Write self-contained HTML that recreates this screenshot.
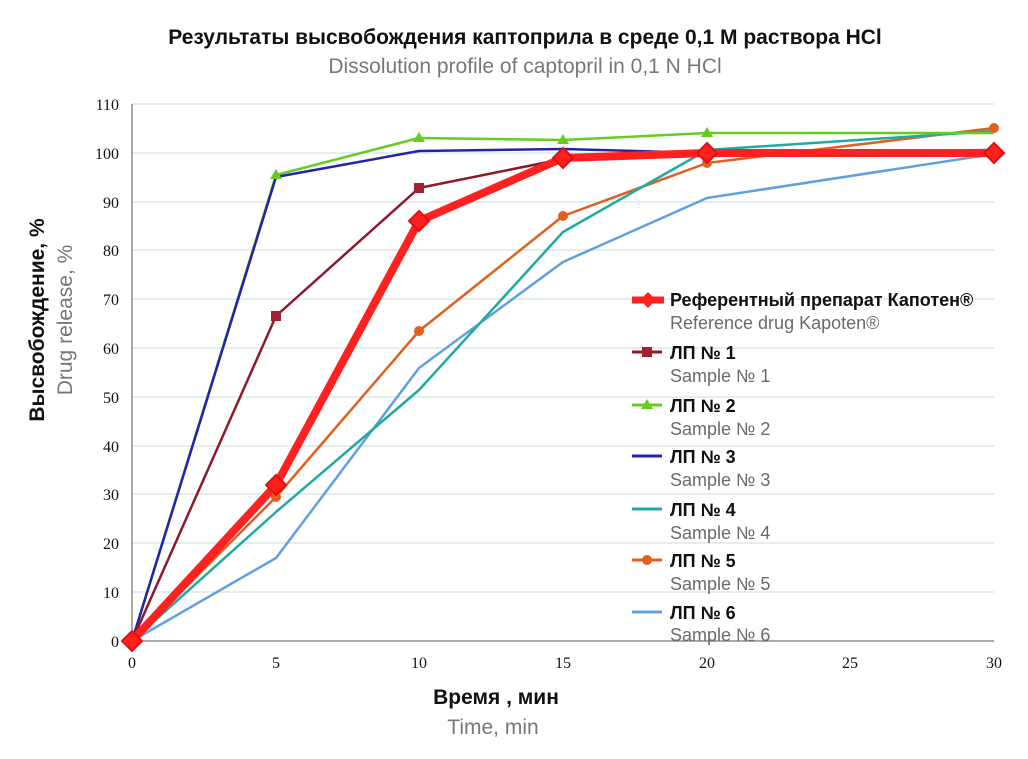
<!DOCTYPE html><html><head><meta charset="utf-8"><style>body{margin:0;background:#fff}svg{display:block}</style></head><body>
<svg width="1028" height="759" xmlns="http://www.w3.org/2000/svg" font-family="'Liberation Sans',sans-serif">
<text x="525" y="44" text-anchor="middle" font-size="21" font-weight="bold" fill="#111">Результаты высвобождения каптоприла в среде 0,1 М раствора HCl</text>
<text x="525" y="73" text-anchor="middle" font-size="21" fill="#777">Dissolution profile of captopril in 0,1 N HCl</text>
<g stroke="#d4e4e4" stroke-width="1.2">
<line x1="132" x2="994" y1="104" y2="104"/><line x1="132" x2="994" y1="153" y2="153"/><line x1="132" x2="994" y1="202" y2="202"/><line x1="132" x2="994" y1="250" y2="250"/><line x1="132" x2="994" y1="299" y2="299"/><line x1="132" x2="994" y1="348" y2="348"/><line x1="132" x2="994" y1="397" y2="397"/><line x1="132" x2="994" y1="446" y2="446"/><line x1="132" x2="994" y1="494" y2="494"/><line x1="132" x2="994" y1="543" y2="543"/><line x1="132" x2="994" y1="592" y2="592"/>
</g>
<line x1="132" x2="132" y1="104" y2="641" stroke="#555"/>
<line x1="132" x2="994" y1="641" y2="641" stroke="#555"/>
<g font-family="'Liberation Serif',serif" font-size="16" text-anchor="end" fill="#111">
<text x="119" y="110">110</text><text x="119" y="159">100</text><text x="119" y="208">90</text><text x="119" y="256">80</text><text x="119" y="305">70</text><text x="119" y="354">60</text><text x="119" y="403">50</text><text x="119" y="452">40</text><text x="119" y="500">30</text><text x="119" y="549">20</text><text x="119" y="598">10</text><text x="119" y="647">0</text>
</g>
<g font-family="'Liberation Serif',serif" font-size="16" text-anchor="middle" fill="#111">
<text x="132" y="668">0</text><text x="276" y="668">5</text><text x="419" y="668">10</text><text x="563" y="668">15</text><text x="707" y="668">20</text><text x="850" y="668">25</text><text x="994" y="668">30</text>
</g>
<text x="496" y="704" text-anchor="middle" font-size="21" font-weight="bold" fill="#111">Время , мин</text>
<text x="493" y="734" text-anchor="middle" font-size="21" fill="#777">Time, min</text>
<text transform="translate(44,320) rotate(-90)" text-anchor="middle" font-size="21" font-weight="bold" fill="#111">Высвобождение, %</text>
<text transform="translate(72,320) rotate(-90)" text-anchor="middle" font-size="21" fill="#777">Drug release, %</text>
<g fill="none" stroke-linejoin="round">
<polyline stroke="#5fa0e0" stroke-width="2.5" points="132,641 276,558 419,368 563,262 707,198 994,154"/>
<polyline stroke="#e06020" stroke-width="2.5" points="132,641 276,497 419,331 563,216 707,163 994,128"/>
<polyline stroke="#22aaa0" stroke-width="2.5" points="132,641 276,512 419,390 563,232 707,150 994,131"/>
<polyline stroke="#66cc22" stroke-width="2.5" points="132,641 276,175 419,138 563,140 707,133 994,133"/>
<polyline stroke="#2222aa" stroke-width="2.5" points="132,641 276,177 419,151 563,149 707,153 994,150"/>
<polyline stroke="#8b1a2a" stroke-width="2.5" points="132,641 276,316 419,188 563,159 707,154 994,153"/>
<polyline stroke="#ff2020" stroke-width="8" points="132,641 276,485 419,221 563,158 707,153 994,153"/>
</g>
<g fill="#a02030"><rect x="271" y="311" width="10" height="10"/><rect x="414" y="183" width="10" height="10"/><rect x="558" y="154" width="10" height="10"/></g>
<g fill="#66cc22"><polygon points="419,132 425,142 413,142"/><polygon points="563,134 569,144 557,144"/><polygon points="707,127 713,137 701,137"/><polygon points="276,169 282,179 270,179"/></g>
<g fill="#e06020"><circle cx="276" cy="497" r="5"/><circle cx="419" cy="331" r="5"/><circle cx="563" cy="216" r="5"/><circle cx="707" cy="163" r="5"/><circle cx="994" cy="128" r="5"/></g>
<g fill="#ff2020" stroke="#e01010" stroke-width="2"><polygon points="132,631 142,641 132,651 122,641"/><polygon points="276,475 286,485 276,495 266,485"/><polygon points="419,211 429,221 419,231 409,221"/><polygon points="563,148 573,158 563,168 553,158"/><polygon points="707,143 717,153 707,163 697,153"/><polygon points="994,143 1004,153 994,163 984,153"/></g>
<g font-size="18">
<line x1="632" x2="664" y1="300" y2="300" stroke="#ff2020" stroke-width="7"/><polygon points="648,292 656,300 648,308 640,300" fill="#ff2020"/>
<text x="670" y="306" font-weight="bold" fill="#111">Референтный препарат Капотен®</text>
<text x="670" y="329" fill="#6a6a6a">Reference drug Kapoten®</text>
<line x1="632" x2="662" y1="352" y2="352" stroke="#8b1a2a" stroke-width="3"/><rect x="642" y="347" width="10" height="10" fill="#a02030"/>
<text x="670" y="359" font-weight="bold" fill="#111">ЛП № 1</text><text x="670" y="382" fill="#6a6a6a">Sample № 1</text>
<line x1="632" x2="662" y1="405" y2="405" stroke="#66cc22" stroke-width="3"/><polygon points="647,399 653,409 641,409" fill="#66cc22"/>
<text x="670" y="412" font-weight="bold" fill="#111">ЛП № 2</text><text x="670" y="435" fill="#6a6a6a">Sample № 2</text>
<line x1="632" x2="662" y1="456" y2="456" stroke="#2222aa" stroke-width="3"/>
<text x="670" y="463" font-weight="bold" fill="#111">ЛП № 3</text><text x="670" y="486" fill="#6a6a6a">Sample № 3</text>
<line x1="632" x2="662" y1="509" y2="509" stroke="#22aaa0" stroke-width="3"/>
<text x="670" y="516" font-weight="bold" fill="#111">ЛП № 4</text><text x="670" y="539" fill="#6a6a6a">Sample № 4</text>
<line x1="632" x2="662" y1="560" y2="560" stroke="#e06020" stroke-width="3"/><circle cx="647" cy="560" r="5" fill="#e06020"/>
<text x="670" y="567" font-weight="bold" fill="#111">ЛП № 5</text><text x="670" y="590" fill="#6a6a6a">Sample № 5</text>
<line x1="632" x2="662" y1="612" y2="612" stroke="#5fa0e0" stroke-width="3"/>
<text x="670" y="619" font-weight="bold" fill="#111">ЛП № 6</text><text x="670" y="641" fill="#6a6a6a">Sample № 6</text>
</g>
</svg></body></html>
